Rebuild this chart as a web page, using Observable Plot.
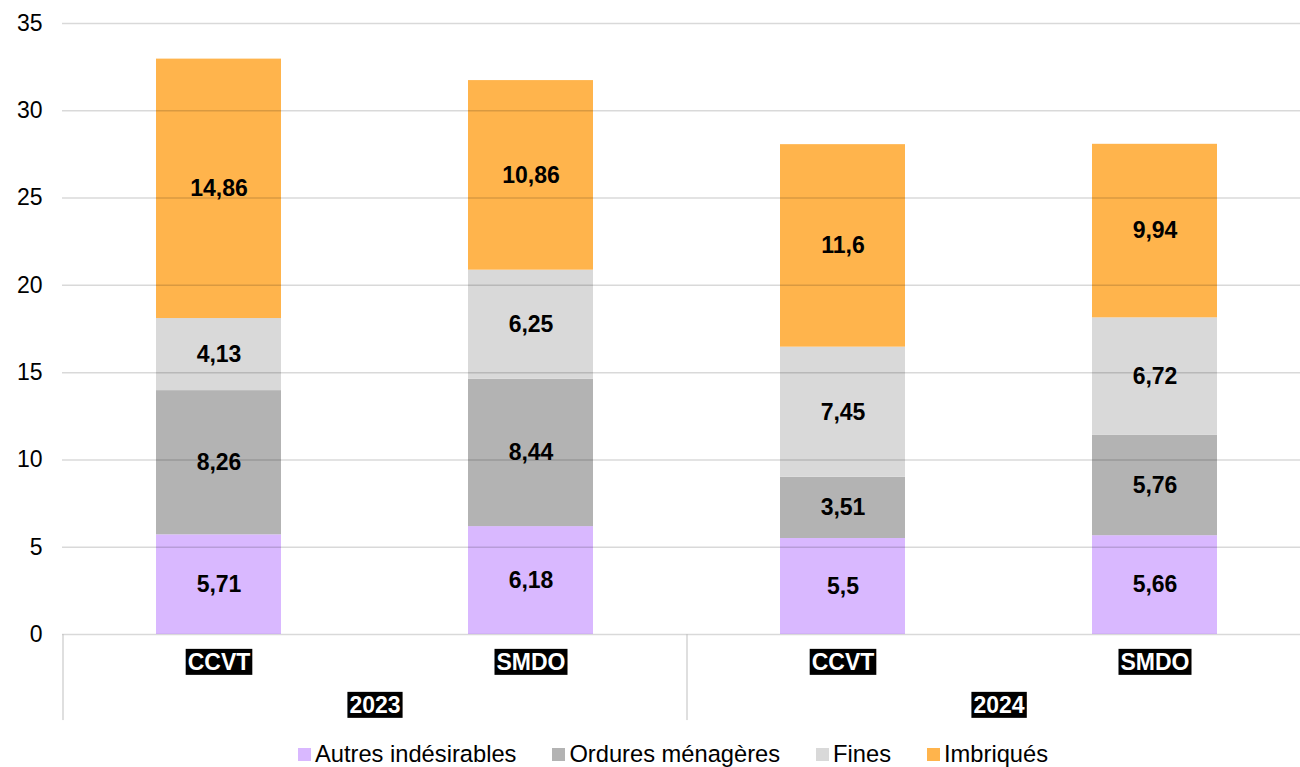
<!DOCTYPE html>
<html>
<head>
<meta charset="utf-8">
<script src="https://cdn.jsdelivr.net/npm/d3@7"></script>
<script src="https://cdn.jsdelivr.net/npm/@observablehq/plot@0.6"></script>
<style>
  html, body { margin: 0; padding: 0; background: #fff; }
  body { font-family: "Liberation Sans", Arial, sans-serif; width: 1300px; }
  #legend { display: flex; justify-content: center; align-items: center; gap: 36px; margin-top: 6px;
            font-size: 23.7px; color: #000; height: 37px; padding-left: 46px; box-sizing: border-box; }
  #legend .item { display: flex; align-items: center; white-space: nowrap; }
  #legend .sw { display: inline-block; width: 13px; height: 13px; margin-right: 4px; }
</style>
</head>
<body>
<div id="chart"></div>
<div id="legend"></div>
<script>
// ---- data ----
const years = ["2023", "2023", "2024", "2024"];
const sites = ["CCVT", "SMDO", "CCVT", "SMDO"];
const series = ["Autres indésirables", "Ordures ménagères", "Fines", "Imbriqués"];
const autres = [5.71, 6.18, 5.5, 5.66];
const ordures = [8.26, 8.44, 3.51, 5.76];
const fines = [4.13, 6.25, 7.45, 6.72];
const imbriques = [14.86, 10.86, 11.6, 9.94];
const yTicks = [0, 5, 10, 15, 20, 25, 30, 35];
const colors = ["#d9b8ff", "#b3b3b3", "#d9d9d9", "#ffb44c"];

const values = [autres, ordures, fines, imbriques];
const keys = years.map((y, i) => y + "|" + sites[i]);
const rows = [];
keys.forEach((k, i) => {
  series.forEach((s, j) => rows.push({ key: k, year: years[i], site: sites[i], series: s, value: values[j][i] }));
});
const siteRows = keys.map((k, i) => ({ key: k, site: sites[i] }));
const yearList = Array.from(new Set(years));
const fmt = v => String(v).replace(".", ",");

const plot = Plot.plot({
  width: 1300,
  height: 730,
  marginLeft: 62,
  marginRight: 0,
  marginTop: 23,
  marginBottom: 96,
  style: { fontFamily: "Liberation Sans, Arial, sans-serif", fontSize: "23px", color: "#000", background: "#fff", overflow: "visible" },
  x: { domain: keys, range: [62, 1310], paddingInner: 0.6, paddingOuter: 0.3, axis: null },
  y: { domain: [0, 35], ticks: yTicks, tickSize: 0, tickPadding: 20, label: null },
  color: { domain: series, range: colors },
  marks: [
    Plot.barY(rows, { x: "key", y: "value", fill: "series" }),
    Plot.ruleY(yTicks, { stroke: "#000", strokeOpacity: 0.15, strokeWidth: 1.5 }),
    Plot.text(rows, Plot.stackY({ x: "key", y: "value", text: d => fmt(d.value), fontWeight: "bold", fontSize: 23, fill: "#000" })),
    Plot.ruleX(keys.filter(k => k.endsWith("CCVT")), { x: d => d, dx: -156, y1: 0, y2: -4.93, stroke: "#bfbfbf", strokeWidth: 1 }),
    Plot.text(siteRows, { x: "key", y: 0, dy: 28, text: "site", fill: "white", fontWeight: "bold", fontSize: 23, ariaDescription: "boxed" }),
    Plot.text(yearList, { x: d => d + "|SMDO", y: 0, dx: -156, dy: 71, text: d => d, fill: "white", fontWeight: "bold", fontSize: 23, ariaDescription: "boxed" })
  ]
});

document.getElementById("chart").appendChild(plot);

// black label backgrounds
plot.querySelectorAll('g[aria-description="boxed"] text').forEach(t => {
  const b = t.getBBox();
  const r = document.createElementNS("http://www.w3.org/2000/svg", "rect");
  r.setAttribute("x", b.x - 2);
  r.setAttribute("y", b.y);
  r.setAttribute("width", b.width + 4);
  r.setAttribute("height", b.height);
  r.setAttribute("fill", "#000");
  if (t.getAttribute("transform")) r.setAttribute("transform", t.getAttribute("transform"));
  t.parentNode.insertBefore(r, t);
});

// legend
const legend = document.getElementById("legend");
series.forEach((s, i) => {
  const item = document.createElement("span");
  item.className = "item";
  const sw = document.createElement("span");
  sw.className = "sw";
  sw.style.background = colors[i];
  item.appendChild(sw);
  item.appendChild(document.createTextNode(s));
  legend.appendChild(item);
});
</script>
</body>
</html>
